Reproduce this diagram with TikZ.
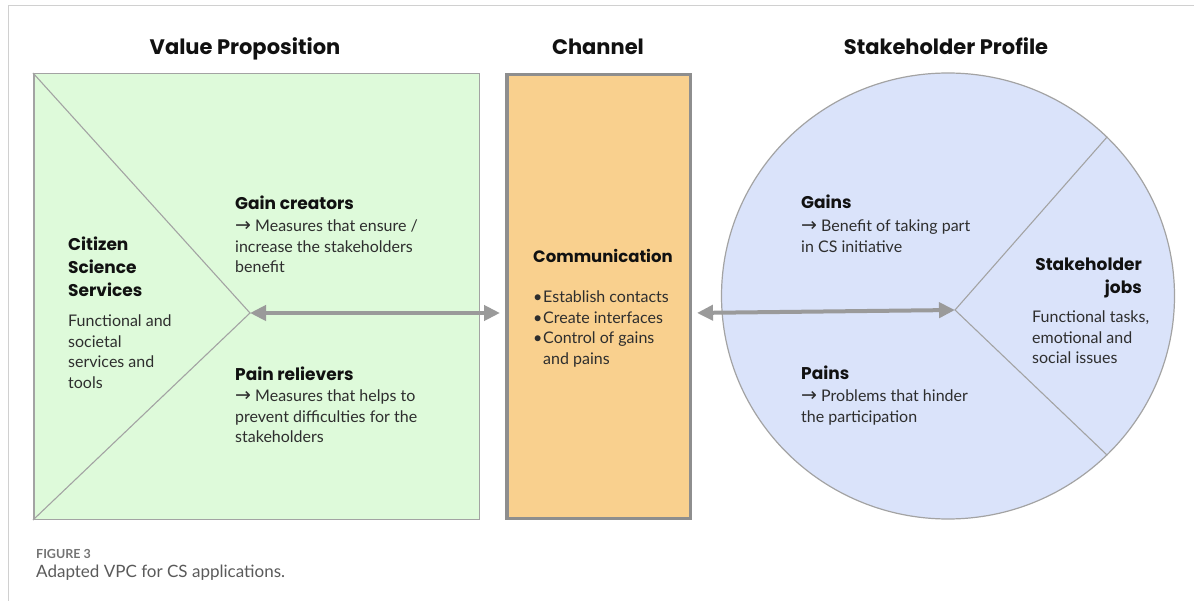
\documentclass[tikz,border=0pt]{standalone}
\usepackage{fontspec}
\setmainfont{Lato}
\newfontfamily\headfont{Poppins}
\newfontfamily\symfont{DejaVu Sans}
\usetikzlibrary{arrows.meta,shapes.geometric}

\definecolor{vpgreen}{HTML}{DEFADA}
\definecolor{chorange}{HTML}{F9D08E}
\definecolor{spblue}{HTML}{DAE3FA}
\definecolor{edgegray}{HTML}{A3A3A3}
\definecolor{boxgray}{HTML}{8E8E8E}
\definecolor{arrowgray}{HTML}{9A9A9A}
\definecolor{framegray}{HTML}{D0D0D0}
\definecolor{bodytext}{HTML}{2E2E2E}
\definecolor{headtext}{HTML}{111111}
\definecolor{captiongray}{HTML}{5A5A5A}

\newcommand{\ra}{\raisebox{0.5pt}{\symfont\fontsize{19}{19}\selectfont →}\ }
\newcommand{\bul}{\makebox[10pt][l]{•}}

\tikzset{
  x=1pt, y=-1pt,
  sectiontitle/.style={anchor=base, inner sep=0pt, text=headtext,
    font=\headfont\bfseries\fontsize{21}{25}\selectfont},
  blockhead/.style={anchor=north west, inner sep=0pt, align=left, text=headtext,
    font=\headfont\bfseries\fontsize{17}{23}\selectfont},
  blockbody/.style={anchor=north west, inner sep=0pt, align=left, text=bodytext,
    font=\fontsize{16}{20.5}\selectfont},
  divider/.style={draw=edgegray, line width=1.1pt},
  link/.style={draw=arrowgray, line width=4pt,
    {Triangle[length=16pt,width=15pt]}-{Triangle[length=16pt,width=15pt]}}
}

\begin{document}
\begin{tikzpicture}
\useasboundingbox (0,0) rectangle (1194,601);

% page frame
\draw[framegray, line width=1pt] (8,601) -- (8,6) -- (1194,6);

% section titles
\node[sectiontitle] (tvp) at (245,55) {Value Proposition};
\node[sectiontitle] (tch) at (598,55) {Channel};
\node[sectiontitle] (tsp) at (946,55) {Stakeholder Profile};

% value proposition square
\node[draw=edgegray, fill=vpgreen, line width=1.5pt, minimum width=445.5pt,
      minimum height=445.5pt, inner sep=0pt] (vp) at (256.5,296.5) {};
\coordinate (vpapex) at (250,313);
\draw[divider] (vp.north west) -- (vpapex) -- (vp.south west);

% channel box
\node[draw=boxgray, fill=chorange, line width=3.5pt, minimum width=183.5pt,
      minimum height=443.5pt, inner sep=0pt] (ch) at (598.5,296.5) {};

% stakeholder profile circle
\node[draw=edgegray, fill=spblue, line width=1.2pt, ellipse, inner sep=0pt,
      minimum width=453pt, minimum height=446pt] (sp) at (948,296) {};
\coordinate (spapex) at (955,310);
\draw[divider] (sp.45) -- (spapex) -- (sp.-45);

% connectors
\draw[link, shorten >=5pt] (vpapex) -- (vpapex -| ch.west);
\draw[link, shorten <=5pt] (vpapex -| ch.east) -- (spapex);

% value proposition texts
\node[blockhead] (css) at (68,237) {Citizen\\Science\\Services};
\node[blockbody] (cssb) at (68,315) {Functional and\\societal\\services and\\tools};
\node[blockhead] (gc) at (235,196) {Gain creators};
\node[blockbody] (gcb) at (235,220) {\ra Measures that ensure /\\increase the stakeholders\\benefit};
\node[blockhead] (pr) at (235,367) {Pain relievers};
\node[blockbody] (prb) at (235,390) {\ra Measures that helps to\\prevent difficulties for the\\stakeholders};

% channel texts
\node[blockhead, font=\headfont\bfseries\fontsize{16.5}{23}\selectfont] (com) at (533,249) {Communication};
\node[blockbody] (comb) at (533,291) {\bul Establish contacts\\\bul Create interfaces\\\bul Control of gains\\\makebox[10pt]{}and pains};

% stakeholder profile texts
\node[blockhead] (gn) at (801,195) {Gains};
\node[blockbody] (gnb) at (801,220) {\ra Benefit of taking part\\in CS initiative};
\node[blockhead] (pn) at (801,366) {Pains};
\node[blockbody] (pnb) at (801,390) {\ra Problems that hinder\\the participation};
\node[blockhead, anchor=north east, align=right] (sj) at (1142,258) {Stakeholder\\jobs};
\node[blockbody] (sjb) at (1032,311) {Functional tasks,\\emotional and\\social issues};

% caption
\node[anchor=base west, inner sep=0pt, text=captiongray!85,
      font=\bfseries\fontsize{12.5}{14}\selectfont] (fig) at (36,558) {FIGURE 3};
\node[anchor=base west, inner sep=0pt, text=captiongray,
      font=\fontsize{17}{19}\selectfont] (cap) at (36,577) {Adapted VPC for CS applications.};
\end{tikzpicture}
\end{document}
